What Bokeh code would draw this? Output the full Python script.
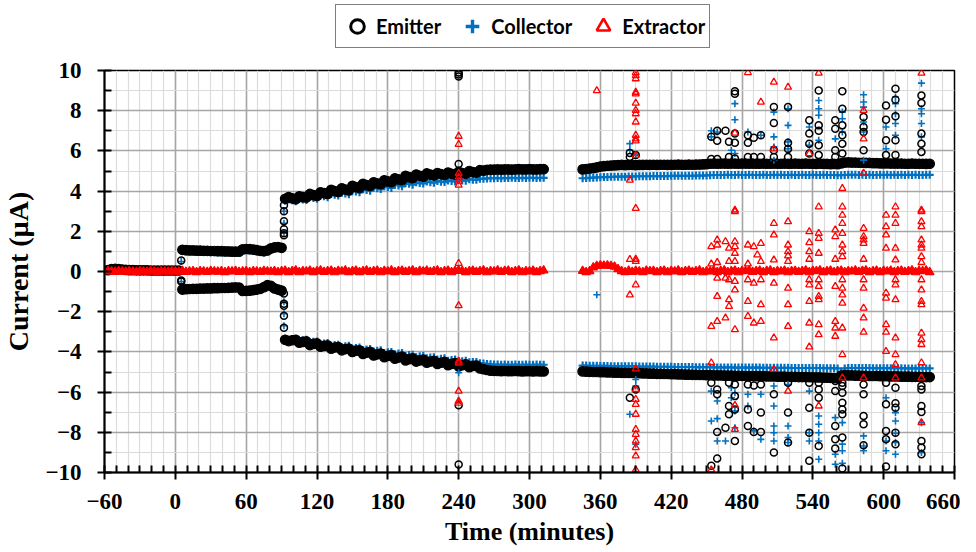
from bokeh.plotting import figure
from bokeh.layouts import column
from bokeh.models import SingleIntervalTicker, Legend, LegendItem, Range1d
from bokeh.embed import file_html
from bokeh.resources import INLINE

# ---------------- data ----------------
# sample times (minutes) of the four recording segments
seg_a_t = list(range(-57, 4, 3))     # before start
seg_b_t = list(range(6, 91, 3))      # low-current phase
seg_c_t = list(range(93, 313, 3))    # first run
seg_d_t = list(range(345, 640, 3))   # second run

emitter_a = [0.07, 0.12, 0.13, 0.12, 0.1, 0.08, 0.07, 0.07, 0.06, 0.06, 0.06, 0.06, 0.05, 0.05,
             0.05, 0.05, 0.05, 0.05, 0.05, 0.05, 0.05]
collector_a = [0.04, 0.08, 0.09, 0.08, 0.06, 0.05, 0.04, 0.04, 0.04, 0.03, 0.03, 0.03, 0.03, 0.03,
               0.03, 0.03, 0.03, 0.03, 0.03, 0.03, 0.03]
extractor_a = [0.02, 0.0, -0.02, 0.01, 0.0, -0.01, 0.02, 0.0, -0.02, 0.01, 0.0, -0.01, 0.02, 0.0,
               -0.02, 0.01, 0.0, -0.01, 0.02, 0.0, -0.01]

emitter_pos_b = [1.08, 1.06, 1.05, 1.05, 1.04, 1.04, 1.03, 1.03, 1.02, 1.02, 1.01, 1.01, 1.0, 1.0,
                 0.99, 0.99, 0.99, 1.1, 1.12, 1.11, 1.09, 1.06, 1.03, 1.01, 1.05, 1.15, 1.2, 1.22, 1.18]
collector_pos_b = [1.02, 1.0, 0.99, 0.99, 0.98, 0.98, 0.97, 0.97, 0.96, 0.96, 0.95, 0.95, 0.94, 0.94,
                   0.93, 0.93, 0.93, 1.04, 1.06, 1.05, 1.03, 1.0, 0.97, 0.95, 0.99, 1.09, 1.14, 1.16, 1.12]
emitter_neg_b = [-0.9, -0.88, -0.87, -0.86, -0.86, -0.85, -0.85, -0.84, -0.84, -0.83, -0.83, -0.82,
                 -0.82, -0.81, -0.8, -0.79, -0.8, -0.97, -0.96, -0.95, -0.93, -0.9, -0.86, -0.78,
                 -0.68, -0.72, -0.84, -0.9, -0.95]
collector_neg_b = [-0.94, -0.92, -0.91, -0.9, -0.9, -0.89, -0.89, -0.88, -0.88, -0.87, -0.87, -0.86,
                   -0.86, -0.85, -0.84, -0.83, -0.84, -1.01, -1.0, -0.99, -0.97, -0.94, -0.9, -0.82,
                   -0.72, -0.76, -0.88, -0.94, -0.99]
extractor_b = [0.03, -0.02, 0.0, 0.02, -0.03, 0.01, 0.0, -0.02, 0.03, 0.0, -0.01, 0.02, -0.03, 0.01,
               0.0, 0.03, -0.02, 0.0, 0.02, -0.03, 0.01, 0.0, -0.02, 0.03, 0.0, -0.01, 0.02, -0.03, 0.01]

emitter_pos_c = [3.62, 3.70, 3.64, 3.60, 3.74, 3.70, 3.68, 3.86, 3.80, 3.76,
                 3.94, 3.90, 3.86, 4.06, 4.00, 3.96, 4.14, 4.08, 4.04, 4.26,
                 4.20, 4.15, 4.36, 4.30, 4.25, 4.44, 4.38, 4.34, 4.54, 4.48,
                 4.44, 4.64, 4.58, 4.54, 4.76, 4.70, 4.64, 4.82, 4.76, 4.72,
                 4.88, 4.82, 4.78, 4.90, 4.84, 4.80, 4.92, 4.86, 4.82, 4.96,
                 4.90, 4.86, 5.00, 4.94, 4.92, 5.04, 5.02, 5.06, 5.07, 5.07,
                 5.08, 5.07, 5.08, 5.08, 5.07, 5.08, 5.09, 5.08, 5.08, 5.09,
                 5.08, 5.08, 5.09, 5.09]
collector_pos_c = [3.52, 3.58, 3.54, 3.50, 3.62, 3.58, 3.56, 3.72, 3.66, 3.62,
                   3.78, 3.74, 3.70, 3.86, 3.82, 3.78, 3.92, 3.88, 3.84, 4.02,
                   3.98, 3.94, 4.10, 4.06, 4.02, 4.18, 4.14, 4.10, 4.24, 4.20,
                   4.16, 4.32, 4.28, 4.24, 4.40, 4.36, 4.32, 4.44, 4.40, 4.38,
                   4.48, 4.44, 4.42, 4.50, 4.47, 4.45, 4.53, 4.50, 4.48, 4.56,
                   4.53, 4.52, 4.59, 4.57, 4.56, 4.62, 4.61, 4.63, 4.64, 4.64,
                   4.65, 4.64, 4.65, 4.65, 4.66, 4.65, 4.65, 4.66, 4.65, 4.66,
                   4.66, 4.65, 4.66, 4.66]
emitter_neg_c = [-3.40, -3.46, -3.42, -3.40, -3.54, -3.50, -3.48, -3.66, -3.60, -3.58,
                 -3.74, -3.70, -3.68, -3.84, -3.78, -3.76, -3.92, -3.86, -3.84, -4.00,
                 -3.94, -3.92, -4.10, -4.04, -4.00, -4.18, -4.12, -4.08, -4.26, -4.20,
                 -4.16, -4.34, -4.28, -4.24, -4.42, -4.36, -4.32, -4.48, -4.42, -4.38,
                 -4.54, -4.48, -4.44, -4.60, -4.54, -4.50, -4.66, -4.60, -4.56, -4.72,
                 -4.66, -4.62, -4.76, -4.70, -4.68, -4.82, -4.86, -4.90, -4.93, -4.94,
                 -4.95, -4.96, -4.95, -4.96, -4.96, -4.95, -4.96, -4.97, -4.96, -4.96,
                 -4.97, -4.96, -4.97, -4.97]
collector_neg_c = [-3.34, -3.40, -3.36, -3.34, -3.46, -3.42, -3.40, -3.56, -3.50, -3.48,
                   -3.62, -3.58, -3.56, -3.70, -3.66, -3.64, -3.78, -3.72, -3.70, -3.84,
                   -3.80, -3.78, -3.92, -3.88, -3.86, -3.98, -3.94, -3.92, -4.06, -4.02,
                   -4.00, -4.12, -4.08, -4.06, -4.20, -4.16, -4.14, -4.26, -4.22, -4.20,
                   -4.32, -4.28, -4.26, -4.38, -4.34, -4.32, -4.44, -4.40, -4.38, -4.48,
                   -4.46, -4.44, -4.52, -4.50, -4.50, -4.56, -4.58, -4.60, -4.62, -4.63,
                   -4.63, -4.64, -4.63, -4.64, -4.64, -4.63, -4.64, -4.64, -4.63, -4.64,
                   -4.64, -4.63, -4.64, -4.64]
extractor_c = [0.04, -0.03, 0.01, 0.05, -0.04, 0.02, 0.0, 0.04, -0.03, 0.02,
               0.05, -0.02, 0.01, 0.04, -0.04, 0.03, 0.0, 0.05, -0.03, 0.02,
               0.04, -0.03, 0.02, 0.05, -0.02, 0.01, 0.04, -0.04, 0.03, 0.0,
               0.05, -0.03, 0.02, 0.04, -0.02, 0.01, 0.05, -0.04, 0.03, 0.0,
               0.04, -0.02, 0.02, 0.05, -0.03, 0.01, 0.04, -0.04, 0.03, 0.05,
               0.03, -0.03, 0.02, 0.04, -0.02, 0.02, 0.05, -0.04, 0.01, 0.0,
               0.05, -0.02, 0.03, 0.04, -0.03, 0.01, 0.05, -0.04, 0.02, 0.0,
               0.04, -0.03, 0.02, 0.05]

emitter_pos_d = [5.08, 5.10, 5.12, 5.14, 5.18, 5.22, 5.24, 5.26, 5.27, 5.28,
                 5.29, 5.30, 5.29, 5.30, 5.30, 5.29, 5.30, 5.30, 5.31, 5.30,
                 5.31, 5.30, 5.31, 5.31, 5.30, 5.31, 5.31, 5.32, 5.31, 5.31,
                 5.32, 5.31, 5.32, 5.32, 5.33, 5.34, 5.36, 5.37, 5.36, 5.37,
                 5.37, 5.36, 5.37, 5.37, 5.36, 5.37, 5.37, 5.36, 5.37, 5.36,
                 5.36, 5.37, 5.36, 5.36, 5.37, 5.36, 5.36, 5.37, 5.36, 5.36,
                 5.37, 5.36, 5.36, 5.37, 5.36, 5.36, 5.35, 5.36, 5.35, 5.35,
                 5.34, 5.35, 5.34, 5.38, 5.42, 5.43, 5.42, 5.42, 5.41, 5.41,
                 5.40, 5.40, 5.39, 5.39, 5.38, 5.38, 5.38, 5.37, 5.37, 5.37,
                 5.37, 5.36, 5.36, 5.37, 5.36, 5.36, 5.36, 5.35, 5.36]
collector_pos_d = [4.64, 4.65, 4.66, 4.67, 4.68, 4.69, 4.70, 4.70, 4.71, 4.71,
                   4.72, 4.72, 4.72, 4.73, 4.73, 4.73, 4.74, 4.74, 4.74, 4.74,
                   4.75, 4.75, 4.75, 4.75, 4.75, 4.76, 4.76, 4.76, 4.76, 4.76,
                   4.76, 4.76, 4.77, 4.77, 4.77, 4.78, 4.79, 4.80, 4.80, 4.80,
                   4.80, 4.81, 4.80, 4.80, 4.81, 4.80, 4.80, 4.81, 4.80, 4.80,
                   4.80, 4.81, 4.80, 4.80, 4.81, 4.80, 4.81, 4.80, 4.80, 4.81,
                   4.80, 4.80, 4.81, 4.80, 4.80, 4.81, 4.80, 4.80, 4.81, 4.80,
                   4.80, 4.80, 4.79, 4.79, 4.80, 4.81, 4.81, 4.81, 4.80, 4.81,
                   4.80, 4.81, 4.80, 4.80, 4.81, 4.80, 4.81, 4.80, 4.81, 4.80,
                   4.81, 4.80, 4.81, 4.80, 4.81, 4.80, 4.80, 4.81, 4.81]
emitter_neg_d = [-4.97, -4.98, -4.99, -5.00, -5.00, -5.01, -5.01, -5.02, -5.02, -5.03,
                 -5.03, -5.04, -5.04, -5.05, -5.05, -5.06, -5.06, -5.07, -5.07, -5.08,
                 -5.08, -5.09, -5.09, -5.10, -5.10, -5.11, -5.11, -5.12, -5.12, -5.13,
                 -5.13, -5.14, -5.14, -5.15, -5.15, -5.16, -5.16, -5.17, -5.17, -5.17,
                 -5.18, -5.18, -5.18, -5.19, -5.19, -5.19, -5.20, -5.20, -5.20, -5.21,
                 -5.21, -5.21, -5.22, -5.22, -5.22, -5.23, -5.23, -5.23, -5.24, -5.24,
                 -5.24, -5.25, -5.25, -5.25, -5.26, -5.26, -5.27, -5.27, -5.28, -5.28,
                 -5.29, -5.30, -5.31, -5.18, -5.16, -5.17, -5.17, -5.18, -5.18, -5.19,
                 -5.19, -5.20, -5.20, -5.20, -5.21, -5.21, -5.21, -5.22, -5.22, -5.22,
                 -5.23, -5.23, -5.23, -5.24, -5.24, -5.24, -5.25, -5.25, -5.25]
collector_neg_d = [-4.68, -4.68, -4.69, -4.69, -4.69, -4.70, -4.70, -4.70, -4.71, -4.71,
                   -4.71, -4.71, -4.72, -4.72, -4.72, -4.72, -4.73, -4.73, -4.73, -4.73,
                   -4.73, -4.74, -4.74, -4.74, -4.74, -4.74, -4.75, -4.75, -4.75, -4.75,
                   -4.75, -4.75, -4.76, -4.76, -4.76, -4.76, -4.76, -4.77, -4.77, -4.77,
                   -4.77, -4.77, -4.77, -4.78, -4.78, -4.78, -4.78, -4.78, -4.78, -4.78,
                   -4.78, -4.79, -4.79, -4.79, -4.79, -4.79, -4.79, -4.79, -4.79, -4.80,
                   -4.80, -4.80, -4.80, -4.80, -4.80, -4.80, -4.80, -4.80, -4.81, -4.81,
                   -4.81, -4.81, -4.82, -5.05, -4.82, -4.80, -4.80, -4.80, -4.80, -4.80,
                   -4.80, -4.80, -4.81, -4.81, -4.81, -4.81, -4.81, -4.81, -4.81, -4.81,
                   -4.81, -4.82, -4.82, -4.82, -4.82, -4.82, -4.82, -4.82, -4.82]
extractor_d = [0.03, -0.03, 0.02, 0.20, 0.28, 0.30, 0.29, 0.30, 0.28, 0.24,
               0.12, 0.02, -0.03, 0.04, -0.02, 0.03, 0.0, -0.03, 0.04, 0.01,
               0.03, -0.03, 0.02, 0.04, -0.04, 0.03, 0.0, 0.05, -0.03, 0.02,
               0.04, -0.02, 0.02, 0.05, -0.04, 0.01, 0.0, 0.04, -0.03, 0.03,
               0.05, -0.03, 0.01, 0.04, -0.04, 0.03, 0.01, 0.05, -0.02, 0.02,
               0.04, -0.03, 0.03, 0.05, -0.03, 0.02, 0.0, 0.04, -0.04, 0.02,
               0.03, -0.02, 0.02, 0.05, -0.04, 0.03, 0.01, 0.05, -0.03, 0.01,
               0.04, -0.03, 0.02, 0.04, -0.04, 0.02, 0.0, 0.05, -0.02, 0.03,
               0.05, -0.03, 0.01, 0.04, -0.03, 0.03, 0.0, 0.04, -0.03, 0.02,
               0.04, -0.02, 0.02, 0.05, -0.04, 0.03, 0.01, 0.05, -0.03]

# sporadic readings (spikes / transitions): time -> values
emitter_spike_t = [5, 92, 240, 385, 390, 454, 459, 466, 469, 474, 485, 490, 496, 507, 519, 537,
                   545, 559, 565, 583, 602, 610, 632]
emitter_spike_v = [
    [0.55, -0.45, -0.5],
    [1.8, 1.9, 2.1, 2.5, 3.0, 3.3, -1.1, -1.6, -1.7, -2.2, -2.8],
    [9.9, 9.8, 9.7, 5.35, -6.66, -9.6],
    [5.9, 5.7, -6.28],
    [5.8, -5.87],
    [6.7, 5.6, -5.54, -9.67],
    [7.0, 6.5, 5.6, -5.87, -6.11, -7.98, -9.3],
    [7.0, -7.77],
    [6.45, 5.7, -5.54, -6.69, -7.1],
    [8.97, 8.84, 6.86, 6.4, 5.62, -5.62, -6.2, -6.86, -8.43],
    [6.78, 6.4, 5.7, -5.62, -6.86, -7.69],
    [6.66, 5.7, -5.67, -7.98],
    [6.78, 5.7, -5.62, -7.02, -7.98],
    [8.18, 7.39, 6.03, 5.7, -6.11, -9.01],
    [8.18, 6.4, 6.1, 5.7, -5.54, -7.02, -8.51],
    [7.52, 6.86, 6.36, 5.87, -5.54, -6.78, -8.02, -9.42],
    [9.0, 7.27, 7.0, 6.28, 5.79, -5.54, -5.87, -6.28, -8.68],
    [7.52, 7.1, 6.03, 5.7, -5.45, -5.95, -7.69, -8.35, -8.81],
    [8.97, 8.1, 7.27, 6.78, 6.36, 5.87, -5.54, -5.7, -6.03, -6.53, -6.86, -7.1, -8.26, -9.8],
    [7.69, 7.19, 6.94, 6.03, -5.62, -6.11, -7.19, -7.6, -8.64],
    [8.26, 7.55, 6.53, 5.79, -5.54, -6.61, -7.93, -8.35, -9.7],
    [9.09, 8.55, 7.72, 6.53, 5.79, -5.78, -6.56, -6.78, -8.02, -8.59],
    [8.76, 8.38, 6.86, 6.36, 5.95, -5.7, -5.87, -6.69, -6.99, -8.43, -8.76, -9.09],
]
collector_spike_t = [5, 92, 240, 357, 385, 390, 454, 459, 466, 471, 474, 485, 490, 496, 507, 519,
                     537, 545, 559, 565, 583, 602, 610, 632]
collector_spike_v = [
    [0.5, -0.5],
    [1.9, 2.4, 3.0, -1.5, -2.1, -2.7],
    [-5.04],
    [-1.16],
    [6.36, 6.03, -7.1],
    [5.79, -5.37, -5.7, -8.59],
    [7.0, 6.7, -5.95, -7.44],
    [6.94, -6.44, -7.32, -8.43],
    [-8.43],
    [6.03, -5.78, -6.28],
    [8.35, 7.55, 5.87, -6.03, -6.94, -7.77],
    [6.94, -6.11, -6.69],
    [-7.93],
    [6.78, -6.11, -8.35],
    [7.93, 6.7, 6.2, 5.54, -5.7, -6.69, -7.69, -8.02, -8.43],
    [8.1, 7.27, 6.45, 6.11, -5.62, -7.69, -8.26, -8.51],
    [7.19, 6.28, -5.95, -8.02, -8.43],
    [8.51, 8.1, 7.77, 6.53, -7.19, -7.6, -8.02, -8.43, -9.34],
    [6.6, -7.27, -9.09, -9.59],
    [7.93, 7.6, 6.94, -7.52, -8.59, -8.92, -9.54],
    [8.79, 8.43, 8.18, 7.44, 6.94, 5.54, -8.18, -8.68, -8.92],
    [7.19, 6.11, -6.28, -8.43, -8.92],
    [8.68, 8.35, 7.85, 7.36, 6.78, -7.02, -7.44, -8.05, -8.51, -9.09],
    [9.37, 8.1, 7.85, 7.36, 6.7, -7.52, -9.01],
]
extractor_spike_t = [240, 357, 385, 390, 454, 459, 466, 469, 474, 485, 490, 493, 496, 507, 519,
                     537, 545, 559, 565, 583, 602, 610, 632]
extractor_spike_v = [
    [6.73, 6.33, 4.88, 4.7, 4.5, 4.3, 0.41, -1.7, -4.46, -4.55, -5.95, -6.45, -6.55],
    [9.0],
    [4.55, 0.6, -1.16],
    [9.9, 9.75, 9.59, 8.92, 8.84, 8.38, 8.02, 7.85, 7.44, 6.78, 6.6, 6.5, 5.78, 3.14, 0.61, 0.5,
     -0.66, -4.84, -5.87, -6.36, -6.61, -7.1, -7.85, -8.1, -8.43, -8.76, -9.17, -9.87],
    [1.24, 0.38, -2.73, -4.54, -9.87],
    [1.57, 1.32, 0.45, -0.33, -1.24, -2.48],
    [1.49, -0.33, -2.31],
    [1.16, 0.5, -0.41, -1.4, -1.73],
    [6.89, 3.06, 2.98, 1.49, 1.24, 0.91, 0.5, -0.49, -0.91, -2.89, -6.66, -7.85],
    [9.9, 1.32, 0.38, -0.41, -1.49, -2.23],
    [1.24, -0.58, -2.56],
    [0.83],
    [8.43, 1.4, 0.5, -0.41, -1.65, -2.48],
    [9.42, 6.1, 2.4, 1.82, 0.58, -0.58, -3.3, -4.87],
    [9.17, 2.48, 1.32, 0.99, 0.78, 0.5, -0.83, -1.65, -2.73, -5.95],
    [5.87, 1.98, 1.44, 0.99, 0.61, -0.41, -0.66, -1.49, -2.56, -3.75],
    [9.87, 3.22, 1.9, 1.65, 0.91, -0.41, -0.74, -1.24, -1.4, -2.64, -3.14, -6.69],
    [2.07, 1.74, 0.61, -0.74, -2.48, -2.81, -3.22],
    [4.13, 3.22, 2.81, 2.4, 1.9, 1.32, 0.99, 0.74, -0.41, -0.83, -1.16, -1.57, -2.81, -4.13, -5.29],
    [8.02, 6.6, 4.9, 2.15, 1.74, 1.57, 1.4, 0.61, -0.41, -0.83, -1.82, -2.31, -3.02, -5.29],
    [2.81, 2.23, 1.82, 1.16, -1.07, -1.32, -2.64, -3.02, -3.97],
    [3.22, 2.81, 2.4, 1.16, 0.58, -0.41, -0.66, -1.4, -3.3, -4.13, -4.63, -5.29],
    [9.87, 3.06, 2.98, 2.48, 2.23, 1.57, 1.32, 1.16, 0.74, 0.45, -0.41, -0.91, -1.49, -1.65, -3.06,
     -3.39, -3.63, -4.54, -5.29, -7.52],
]

series_names = ["Emitter", "Collector", "Extractor"]
x_ticks_interval = 60
y_ticks_interval = 2


def flatten(times, groups):
    xs, ys = [], []
    for t, vals in zip(times, groups):
        for v in vals:
            xs.append(t)
            ys.append(v)
    return xs, ys


def band(a_vals, pos_b, pos_c, pos_d, neg_b, neg_c, neg_d):
    xs = seg_a_t + seg_b_t + seg_c_t + seg_d_t + seg_b_t + seg_c_t + seg_d_t
    ys = a_vals + pos_b + pos_c + pos_d + neg_b + neg_c + neg_d
    return xs, ys


em_bx, em_by = band(emitter_a, emitter_pos_b, emitter_pos_c, emitter_pos_d,
                    emitter_neg_b, emitter_neg_c, emitter_neg_d)
co_bx, co_by = band(collector_a, collector_pos_b, collector_pos_c, collector_pos_d,
                    collector_neg_b, collector_neg_c, collector_neg_d)
ex_bx = seg_a_t + seg_b_t + seg_c_t + seg_d_t
ex_by = extractor_a + extractor_b + extractor_c + extractor_d
em_sx, em_sy = flatten(emitter_spike_t, emitter_spike_v)
co_sx, co_sy = flatten(collector_spike_t, collector_spike_v)
ex_sx, ex_sy = flatten(extractor_spike_t, extractor_spike_v)

# ---------------- main figure ----------------
SERIF = "Liberation Serif"
LEG_H = 50
p = figure(width=960, height=552 - LEG_H, x_range=Range1d(-60, 660), y_range=Range1d(-10, 10),
           output_backend="svg", toolbar_location=None,
           min_border_left=102, min_border_right=6, min_border_top=70 - LEG_H, min_border_bottom=80,
           background_fill_color="white", border_fill_color="white")

p.outline_line_color = "black"
p.outline_line_width = 1.5

p.xaxis.ticker = SingleIntervalTicker(interval=x_ticks_interval, num_minor_ticks=6)
p.yaxis.ticker = SingleIntervalTicker(interval=y_ticks_interval, num_minor_ticks=2)

for ax in (p.xaxis, p.yaxis):
    ax.axis_line_color = "black"
    ax.axis_line_width = 2
    ax.major_tick_line_color = "black"
    ax.major_tick_line_width = 2
    ax.major_tick_out = 7
    ax.major_tick_in = 0
    ax.minor_tick_line_color = "black"
    ax.minor_tick_line_width = 2
    ax.minor_tick_in = 7
    ax.minor_tick_out = 0
    ax.major_label_text_font = SERIF
    ax.major_label_text_font_style = "bold"
    ax.major_label_text_font_size = "23px"
    ax.major_label_text_color = "black"
    ax.axis_label_text_font = SERIF
    ax.axis_label_text_font_style = "bold"
    ax.axis_label_text_color = "black"

p.xaxis.axis_label = "Time (minutes)"
p.yaxis.axis_label = "Current (µA)"
p.xaxis.axis_label_text_font_size = "26px"
p.yaxis.axis_label_text_font_size = "28px"
p.xaxis.major_label_standoff = 14
p.xaxis.axis_label_standoff = 5
p.yaxis.major_label_standoff = 16
p.yaxis.axis_label_standoff = 8

for g in (p.xgrid, p.ygrid):
    g.grid_line_color = "#a6a6a6"
    g.grid_line_width = 1.6
    g.minor_grid_line_color = "#dcdcdc"
    g.minor_grid_line_width = 1.2

BLUE = "#0070C0"
# dense traces (markers overlap into solid bands)
p.scatter(co_bx, co_by, marker="cross", size=8, line_color=BLUE, line_width=2.2)
p.scatter(em_bx, em_by, marker="circle", size=9.5, fill_color="black", line_color="black", line_width=1.2)
p.scatter(ex_bx, ex_by, marker="triangle", size=8.5, fill_color="red", line_color="red", line_width=1.2)
# sporadic readings
p.scatter(co_sx, co_sy, marker="cross", size=7, line_color=BLUE, line_width=1.6)
p.scatter(em_sx, em_sy, marker="circle", size=7, fill_color=None, line_color="black", line_width=1.5)
p.scatter(ex_sx, ex_sy, marker="triangle", size=7, fill_color=None, line_color="red", line_width=1.3)

# ---------------- legend strip ----------------
# the key's glyphs reuse one reading of each series, kept outside this strip's visible range
lf = figure(width=960, height=LEG_H, x_range=Range1d(1000, 1001), y_range=Range1d(1000, 1001),
            output_backend="svg", toolbar_location=None, x_axis_type=None, y_axis_type=None,
            min_border=0, outline_line_color=None)
lf.grid.visible = False
lg_em = lf.scatter(em_sx[:1], em_sy[:1], marker="circle", fill_color=None, line_color="black", line_width=3)
lg_co = lf.scatter(co_sx[:1], co_sy[:1], marker="cross", line_color=BLUE, line_width=3.4)
lg_ex = lf.scatter(ex_sx[:1], ex_sy[:1], marker="triangle", fill_color=None, line_color="red", line_width=2.6)

legend = Legend(items=[LegendItem(label=series_names[0], renderers=[lg_em]),
                       LegendItem(label=series_names[1], renderers=[lg_co]),
                       LegendItem(label=series_names[2], renderers=[lg_ex])],
                location=(231, 2), orientation="horizontal",
                glyph_width=34, glyph_height=34, label_standoff=2, spacing=14,
                padding=4, margin=0,
                label_text_font="Lato", label_text_font_style="bold",
                label_text_font_size="20px", label_text_color="black",
                border_line_color="black", border_line_width=1.6,
                background_fill_color="white", background_fill_alpha=1.0)
lf.add_layout(legend, "center")

layout = column(lf, p, spacing=0)
open("out.html", "w").write(file_html(layout, INLINE))
